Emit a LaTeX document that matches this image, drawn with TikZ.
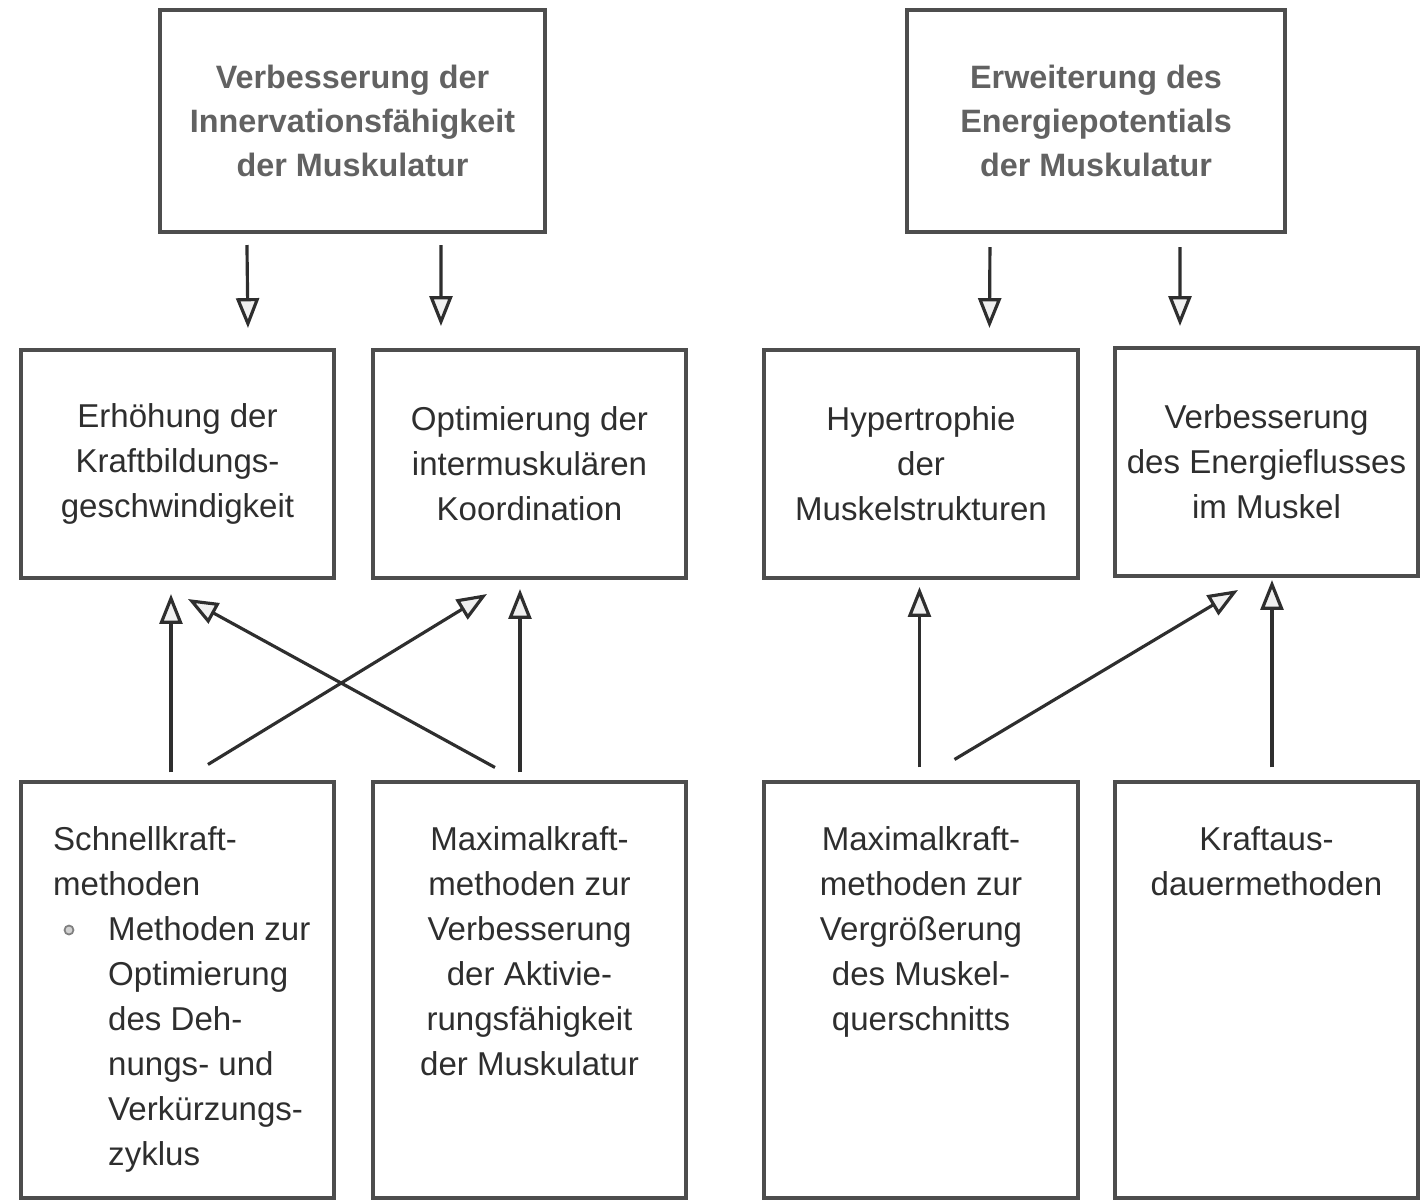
\documentclass[tikz,border=0pt]{standalone}
\usepackage{fontspec}
\setmainfont{Liberation Sans}
\usetikzlibrary{arrows.meta}
\usetikzlibrary{positioning}
\usetikzlibrary{calc}
\definecolor{ink}{HTML}{2E2E2E}

\tikzset{
  box/.style={draw=ink!85, line width=1.1pt, inner sep=0pt, minimum width=3.13cm,
    minimum height=2.28cm, align=center, text=ink, font=\fontsize{9.4}{12.8}\selectfont},
  goal/.style={box, minimum height=2.22cm, text=ink!75,
    font=\bfseries\fontsize{9.2}{12.6}\selectfont},
  method/.style={box, minimum height=4.15cm},
  txt/.style={inner sep=0pt, text=ink, font=\fontsize{9.4}{12.8}\selectfont},
  dot/.style={circle, draw=gray, fill=gray!35, line width=0.5pt, inner sep=0pt, minimum size=0.09cm},
  arr/.style={draw=ink, line width=0.9pt, -{Triangle[fill=gray!12, length=8.5pt, width=6.5pt]}},
}

\begin{document}
\begin{tikzpicture}[x=0.01cm, y=-0.01cm]
  \useasboundingbox (0,0) rectangle (1427,1202);

  % Define nodes
  \node[goal, minimum width=3.85cm] (inn) at (352.5,121)
    {Verbesserung der\\Innervationsfähigkeit\\der Muskulatur};
  \node[goal, minimum width=3.78cm] (ene) at (1096,121)
    {Erweiterung des\\Energiepotentials\\der Muskulatur};

  \node[box] (kbg) at (177.5,464) {Erhöhung der\\Kraftbildungs-\\geschwindigkeit};
  \node[box] (imk) at (529.5,464) {Optimierung der\\intermuskulären\\Koordination};
  \node[box] (hyp) at (921,464) {Hypertrophie\\der\\Muskelstrukturen};
  \node[box, minimum width=3.03cm] (enf) at (1266.5,462) {Verbesserung\\des Energieflusses\\im Muskel};

  \node[method] (skm) at (177.5,990) {};
  \node[method] (mkm) at (529.5,990) {};
  \node[method] (mkq) at (921,990) {};
  \node[method, minimum width=3.03cm] (kad) at (1266.5,990) {};

  % Texts of the methods
  \node[txt, align=left, below right=0.45cm and 0.335cm of skm.north west] (skmt)
    {Schnellkraft-\\methoden\\\hspace*{0.55cm}Methoden zur\\\hspace*{0.55cm}Optimierung\\
     \hspace*{0.55cm}des Deh-\\\hspace*{0.55cm}nungs- und\\\hspace*{0.55cm}Verkürzungs-\\
     \hspace*{0.55cm}zyklus};
  \node[dot] (bul) at (69,930) {};
  \node[txt, align=center, below=0.45cm of mkm.north] (mkmt)
    {Maximalkraft-\\methoden zur\\Verbesserung\\der Aktivie-\\rungsfähigkeit\\der Muskulatur};
  \node[txt, align=center, below=0.45cm of mkq.north] (mkqt)
    {Maximalkraft-\\methoden zur\\Vergrößerung\\des Muskel-\\querschnitts};
  \node[txt, align=center, below=0.45cm of kad.north] (kadt)
    {Kraftaus-\\dauermethoden};

  % Connect the nodes
  \draw[arr] ($(inn.south west)+(89,11)$) -- ($(kbg.north west)+(229,-20)$);
  \draw[arr] ($(inn.south west)+(283,11)$) -- ($(imk.north west)+(70,-22)$);
  \draw[arr] ($(ene.south west)+(85,13)$) -- ($(hyp.north west)+(227,-20)$);
  \draw[arr] ($(ene.south west)+(275,13)$) -- ($(enf.north west)+(67,-20)$);

  \draw[arr] ($(skm.north west)+(152,-8)$) -- ($(kbg.south west)+(152,14)$);
  \draw[arr] ($(mkm.north west)+(124,-13)$) -- ($(kbg.south west)+(169,19)$);
  \draw[arr] ($(skm.north west)+(189,-16)$) -- ($(imk.south west)+(116,14)$);
  \draw[arr] ($(mkm.north west)+(149,-8)$) -- ($(imk.south west)+(149,9)$);

  \draw[arr] ($(mkq.north west)+(157,-13)$) -- ($(hyp.south west)+(157,7)$);
  \draw[arr] ($(mkq.north west)+(192,-21)$) -- ($(enf.south west)+(125,12)$);
  \draw[arr] ($(kad.north west)+(159,-13)$) -- ($(enf.south west)+(159,2)$);

\end{tikzpicture}
\end{document}
